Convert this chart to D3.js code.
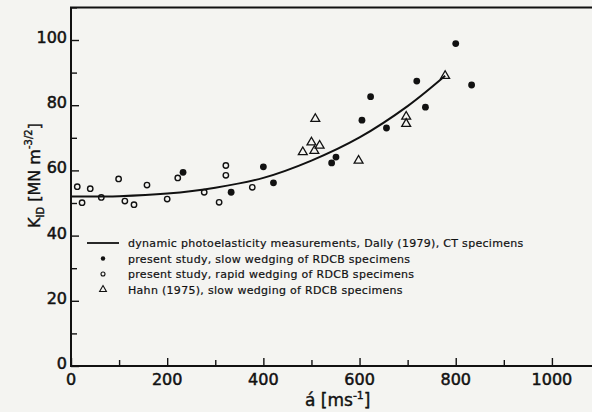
<!DOCTYPE html>
<html>
<head>
<meta charset="utf-8">
<script src="https://cdn.jsdelivr.net/npm/d3@7"></script>
<style>
  body { margin: 0; background: #f4f4f1; }
  svg { display: block; }
  text { font-family: "DejaVu Sans", sans-serif; fill: #111; }
</style>
</head>
<body>
<svg id="chart" width="592" height="412"></svg>
<script>
// values
const slowX = [233, 333, 400, 421, 542, 551, 605, 623, 656, 719, 737, 800, 833];
const slowY = [59.4, 53.3, 61.1, 56.2, 62.3, 64.1, 75.4, 82.6, 73.0, 87.4, 79.4, 98.9, 86.2];

const rapidX = [13, 23, 40, 63, 99, 112, 131, 158, 200, 222, 277, 308, 322, 322, 377];
const rapidY = [55.0, 50.1, 54.4, 51.7, 57.4, 50.6, 49.5, 55.5, 51.2, 57.7, 53.3, 50.2, 58.5, 61.5, 54.8];

const hahnX = [482, 500, 506, 517, 508, 598, 697, 697, 778];
const hahnY = [65.6, 68.6, 66.0, 67.6, 75.8, 63.0, 76.5, 74.3, 89.0];

const dallyX = [0, 100, 200, 300, 400, 500, 600, 700, 778];
const dallyY = [52.0, 52.1, 52.9, 54.7, 57.7, 63.0, 70.1, 79.7, 89.0];

const xTicks = [0, 200, 400, 600, 800, 1000];
const yTicks = [0, 20, 40, 60, 80, 100];

const legendLabels = [
  "dynamic photoelasticity measurements, Dally (1979), CT specimens",
  "present study, slow wedging of RDCB specimens",
  "present study, rapid wedging of RDCB specimens",
  "Hahn (1975), slow wedging of RDCB specimens"
];

const svg = d3.select("#chart");
const x = d3.scaleLinear().domain([0, 1100]).range([71, 600]);
const y = d3.scaleLinear().domain([0, 110]).range([366, 7.4]);

// axes, ticks inward
const xAxis = d3.axisTop(x).tickValues(d3.range(0, 1101, 100)).tickSize(7).tickFormat("");
const yAxis = d3.axisRight(y).tickValues(d3.range(0, 111, 10)).tickSize(7).tickFormat("");

const gx = svg.append("g").attr("transform", `translate(0,${y(0)})`).call(xAxis);
const gy = svg.append("g").attr("transform", `translate(${x(0)},0)`).call(yAxis);
[gx, gy].forEach(g => {
  g.select(".domain").remove();
  g.selectAll("line").attr("stroke", "#111").attr("stroke-width", 1.4);
});
gx.selectAll(".tick line").attr("y2", d => d % 200 === 0 ? -8 : -6);
gy.selectAll(".tick line").attr("x2", d => d % 20 === 0 ? 8 : 6);

// frame: left, bottom and top lines
svg.append("path")
  .attr("d", `M592,${y(110)}H${x(0)}V${y(0)}H592`)
  .attr("fill", "none").attr("stroke", "#111").attr("stroke-width", 2);

svg.append("g").selectAll("text").data(xTicks).join("text")
  .attr("x", d => x(d)).attr("y", 385)
  .attr("text-anchor", "middle").attr("font-size", 16)
  .attr("stroke", "#111").attr("stroke-width", 0.5)
  .text(d => d);

svg.append("g").selectAll("text").data(yTicks).join("text")
  .attr("x", 67).attr("y", d => y(d) + 3)
  .attr("text-anchor", "end").attr("font-size", 16)
  .attr("stroke", "#111").attr("stroke-width", 0.5)
  .text(d => d);

// axis titles
const xt = svg.append("text").attr("x", 305).attr("y", 406).attr("font-size", 17)
  .attr("stroke", "#111").attr("stroke-width", 0.4);
xt.append("tspan").text("á [ms");
xt.append("tspan").attr("dy", -7).attr("font-size", 11).text("-1");
xt.append("tspan").attr("dy", 7).text("]");

const yt = svg.append("text").attr("transform", "translate(40,228) rotate(-90)").attr("font-size", 16)
  .attr("stroke", "#111").attr("stroke-width", 0.4);
yt.append("tspan").text("K");
yt.append("tspan").attr("dy", 4).attr("font-size", 10).text("ID");
yt.append("tspan").attr("dy", -4).text(" [MN m");
yt.append("tspan").attr("dy", -8).attr("font-size", 10).text("-3/2");
yt.append("tspan").attr("dy", 8).text("]");

// Dally curve
const line = d3.line().x(d => x(d[0])).y(d => y(d[1])).curve(d3.curveCatmullRom);
svg.append("path")
  .datum(d3.zip(dallyX, dallyY))
  .attr("d", line)
  .attr("fill", "none").attr("stroke", "#111").attr("stroke-width", 2);

// markers
const tri = d3.symbol().type(d3.symbolTriangle).size(34);

svg.append("g").selectAll("circle").data(d3.zip(rapidX, rapidY)).join("circle")
  .attr("cx", d => x(d[0])).attr("cy", d => y(d[1])).attr("r", 2.7)
  .attr("fill", "none").attr("stroke", "#111").attr("stroke-width", 1.4);

svg.append("g").selectAll("circle").data(d3.zip(slowX, slowY)).join("circle")
  .attr("cx", d => x(d[0])).attr("cy", d => y(d[1])).attr("r", 3.4)
  .attr("fill", "#111");

svg.append("g").selectAll("path").data(d3.zip(hahnX, hahnY)).join("path")
  .attr("transform", d => `translate(${x(d[0])},${y(d[1])})`)
  .attr("d", tri)
  .attr("fill", "none").attr("stroke", "#111").attr("stroke-width", 1.3);

// legend
const leg = svg.append("g");
const rowY = [243, 258.5, 274, 289.5];
leg.append("line").attr("x1", 87).attr("x2", 119).attr("y1", rowY[0]).attr("y2", rowY[0])
  .attr("stroke", "#111").attr("stroke-width", 1.8);
leg.append("circle").attr("cx", 103).attr("cy", rowY[1]).attr("r", 2.2).attr("fill", "#111");
leg.append("circle").attr("cx", 103).attr("cy", rowY[2]).attr("r", 2).attr("fill", "none")
  .attr("stroke", "#111").attr("stroke-width", 1.1);
leg.append("path").attr("transform", `translate(103,${rowY[3]})`)
  .attr("d", d3.symbol().type(d3.symbolTriangle).size(20))
  .attr("fill", "none").attr("stroke", "#111").attr("stroke-width", 1.1);

leg.selectAll("text").data(legendLabels).join("text")
  .attr("x", 128).attr("y", (d, i) => rowY[i] + 4)
  .attr("font-size", 11).attr("letter-spacing", 0.3)
  .attr("stroke", "#111").attr("stroke-width", 0.2)
  .text(d => d);
</script>
</body>
</html>
